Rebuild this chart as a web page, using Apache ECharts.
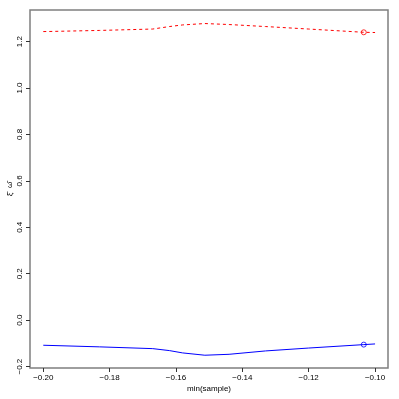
<!DOCTYPE html>
<html>
<head>
<meta charset="utf-8">
<script src="https://cdn.jsdelivr.net/npm/echarts@6/dist/echarts.min.js"></script>
<style>html,body{margin:0;padding:0;background:#fff}#c{width:399px;height:399px}</style>
</head>
<body>
<div id="c"></div>
<script>
var xGrid = [-0.200, -0.183, -0.167, -0.162, -0.158, -0.1513, -0.144, -0.133, -0.120, -0.1034, -0.100];
var xiHat = [1.243, 1.248, 1.254, 1.2647, 1.2717, 1.2777, 1.2734, 1.2647, 1.254, 1.240, 1.239];
var omegaHat = [-0.108, -0.115, -0.1226, -0.131, -0.141, -0.151, -0.147, -0.1325, -0.120, -0.1053, -0.1023];
var sampleMin = -0.1034;
var xiAtMin = 1.240;
var omegaAtMin = -0.1053;
var xTicks = [-0.20, -0.18, -0.16, -0.14, -0.12, -0.10];
var yTicks = [-0.2, 0.0, 0.2, 0.4, 0.6, 0.8, 1.0, 1.2];

function fmt(v, d) { var s = Math.abs(v).toFixed(d); return (v < -1e-9 ? '\u2212' : '') + s; }
function pairs(xs, ys) { return xs.map(function (x, i) { return [x, ys[i]]; }); }

var font = 'Liberation Sans, Arial, Helvetica, sans-serif';
var chart = echarts.init(document.getElementById('c'), null, { renderer: 'canvas' });
chart.setOption({
  animation: false,
  backgroundColor: '#fff',
  grid: { left: 30, right: 11, top: 10, bottom: 31, show: true, borderColor: '#7f7f7f', borderWidth: 1.5, containLabel: false, outerBoundsMode: 'none' },
  xAxis: {
    type: 'value', min: -0.204, max: -0.0961,
    name: 'min(sample)', nameLocation: 'middle', nameGap: 17, nameMoveOverlap: false,
    nameTextStyle: { fontFamily: font, fontSize: 8, color: '#000' },
    axisLine: { show: false, onZero: false },
    splitLine: { show: false },
    axisTick: { show: true, inside: false, length: 4, customValues: xTicks, lineStyle: { color: '#333' } },
    axisLabel: { customValues: xTicks, formatter: function (v) { return fmt(v, 2); }, fontFamily: font, fontSize: 8, color: '#000', margin: 6 }
  },
  yAxis: {
    type: 'value', min: -0.206, max: 1.336,
    name: '\u03BE\u0302  \u03C9\u0302', nameLocation: 'middle', nameGap: 16, nameRotate: 90, nameMoveOverlap: false,
    nameTextStyle: { fontFamily: font, fontSize: 8, color: '#000' },
    axisLine: { show: false, onZero: false },
    splitLine: { show: false },
    axisTick: { show: true, inside: false, length: 4, customValues: yTicks, lineStyle: { color: '#333' } },
    axisLabel: { customValues: yTicks, rotate: 90, formatter: function (v) { return fmt(v, 1); }, fontFamily: font, fontSize: 8, color: '#000', margin: 6 }
  },
  series: [
    { type: 'line', data: pairs(xGrid, xiHat), showSymbol: false, lineStyle: { color: '#ff0000', width: 1, type: [3, 3] } },
    { type: 'line', data: pairs(xGrid, omegaHat), showSymbol: false, lineStyle: { color: '#0000ff', width: 1 } },
    { type: 'scatter', data: [[sampleMin, xiAtMin]], symbol: 'circle', symbolSize: 5, itemStyle: { color: 'rgba(0,0,0,0)', borderColor: '#ff0000', borderWidth: 1 } },
    { type: 'scatter', data: [[sampleMin, omegaAtMin]], symbol: 'circle', symbolSize: 5, itemStyle: { color: 'rgba(0,0,0,0)', borderColor: '#0000ff', borderWidth: 1 } }
  ]
});
</script>
</body>
</html>
